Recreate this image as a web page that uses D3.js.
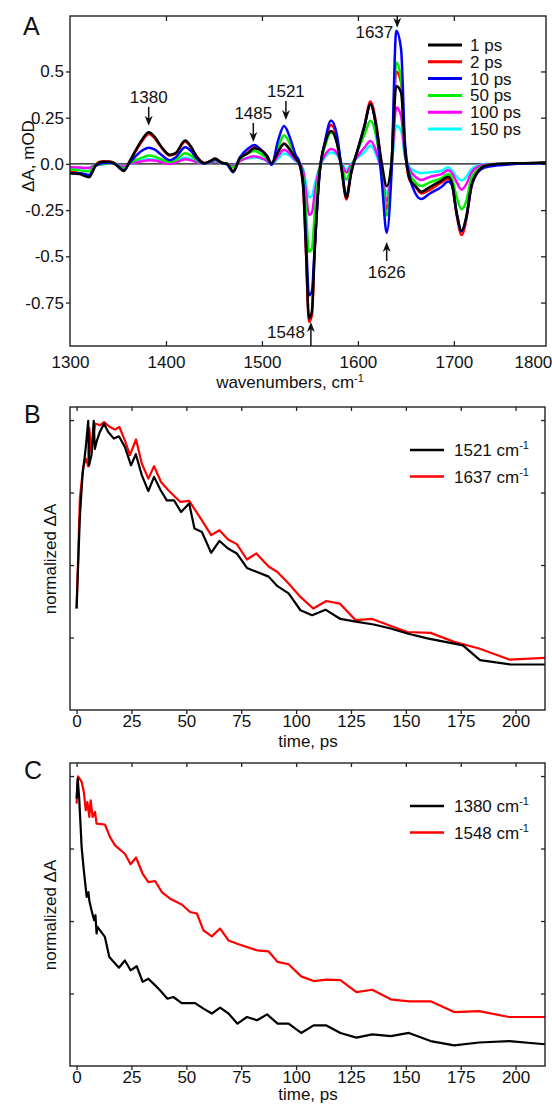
<!DOCTYPE html>
<meta charset="utf-8">
<script src="https://d3js.org/d3.v7.min.js"></script>
<style>
  body { margin: 0; background: #fff; }
  text { font-family: "Liberation Sans", Arial, sans-serif; fill: #111; }
</style>
<div id="my_dataviz"></div>

<script>

// ---------------- data: panel A (transient spectra) ----------------
var wavenumbers = [1300,1310,1320,1327,1334,1341,1347,1351,1356,1362,
  1368,1376,1382,1388,1395,1404,1410,1420,1426,1432,
  1440,1446,1451,1458,1464,1470,1477,1486,1492,1500,
  1505,1510,1517,1523,1530,1535,1539,1543,1546,1549,
  1552,1555,1560,1566,1572,1578,1583,1588,1593,1600,
  1607,1613,1619,1625,1630,1635,1640,1645,1649,1654,
  1660,1666,1675,1687,1694,1698,1703,1708,1713,1718,
  1725,1732,1746,1760,1774,1796];

var spec1ps = [-0.05,-0.055,-0.072,-0.005,0.012,0.012,0.0,-0.02,-0.038,0.012,
  0.07,0.139,0.171,0.148,0.094,0.049,0.058,0.126,0.094,0.04,
  0.004,0.015,0.029,0.007,0.0,-0.041,0.03,0.06,0.085,0.07,
  0.045,0.004,0.067,0.108,0.07,0.03,0.0,-0.12,-0.48,-0.835,
  -0.80,-0.46,-0.05,0.115,0.178,0.115,-0.03,-0.182,-0.047,0.08,
  0.206,0.323,0.206,0.0,-0.12,0.007,0.422,0.386,0.08,-0.083,
  -0.12,-0.15,-0.125,-0.09,-0.07,-0.104,-0.267,-0.361,-0.285,-0.123,
  -0.041,-0.011,0.0,0.003,0.004,0.007];

var spec2ps = [-0.04,-0.05,-0.065,-0.002,0.015,0.013,0.002,-0.018,-0.035,0.012,
  0.065,0.13,0.162,0.14,0.09,0.045,0.055,0.12,0.09,0.04,
  0.005,0.015,0.028,0.007,0.0,-0.04,0.03,0.065,0.09,0.072,
  0.045,0.004,0.07,0.11,0.072,0.03,0.0,-0.13,-0.49,-0.855,
  -0.82,-0.47,-0.05,0.12,0.21,0.14,-0.03,-0.192,-0.05,0.08,
  0.21,0.338,0.22,-0.03,-0.245,0.0,0.50,0.44,0.09,-0.09,
  -0.125,-0.16,-0.14,-0.1,-0.08,-0.112,-0.28,-0.385,-0.3,-0.13,
  -0.045,-0.014,0.0,0.002,0.004,0.006];

var spec10ps = [-0.05,-0.05,-0.06,-0.01,0.005,0.008,0.0,-0.015,-0.035,0.005,
  0.04,0.075,0.088,0.078,0.05,0.02,0.035,0.09,0.07,0.03,
  0.002,0.012,0.025,0.005,-0.005,-0.045,0.035,0.085,0.102,0.07,
  0.04,-0.005,0.13,0.205,0.13,0.05,0.01,-0.10,-0.41,-0.71,
  -0.69,-0.45,-0.06,0.13,0.235,0.16,-0.02,-0.17,-0.045,0.08,
  0.21,0.32,0.2,-0.1,-0.372,-0.05,0.72,0.62,0.12,-0.07,
  -0.16,-0.19,-0.16,-0.125,-0.095,-0.115,-0.27,-0.365,-0.29,-0.13,
  -0.045,-0.02,-0.008,-0.002,0.002,0.005];

var spec50ps = [-0.03,-0.035,-0.04,-0.005,0.0,0.005,0.0,-0.01,-0.025,0.002,
  0.02,0.035,0.045,0.04,0.025,0.01,0.02,0.057,0.045,0.02,
  0.003,0.01,0.02,0.005,0.0,-0.02,0.025,0.06,0.07,0.05,
  0.03,0.0,0.09,0.155,0.1,0.04,0.008,-0.07,-0.27,-0.475,
  -0.46,-0.27,-0.03,0.1,0.17,0.12,-0.01,-0.085,-0.02,0.075,
  0.16,0.233,0.15,-0.06,-0.28,-0.02,0.548,0.46,0.08,-0.05,
  -0.1,-0.12,-0.1,-0.077,-0.055,-0.08,-0.18,-0.245,-0.2,-0.08,
  -0.03,-0.01,0.0,0.002,0.003,0.005];

var spec100ps = [-0.018,-0.02,-0.022,-0.005,0.0,0.003,0.0,-0.008,-0.015,0.0,
  0.008,0.015,0.02,0.018,0.01,0.0,0.008,0.025,0.02,0.01,
  0.002,0.008,0.015,0.004,0.0,-0.01,0.015,0.035,0.042,0.03,
  0.018,0.0,0.045,0.076,0.05,0.02,0.005,-0.04,-0.16,-0.276,
  -0.265,-0.16,-0.02,0.05,0.08,0.06,0.0,-0.047,-0.005,0.043,
  0.09,0.124,0.07,-0.05,-0.2,-0.02,0.305,0.26,0.05,-0.03,
  -0.07,-0.087,-0.07,-0.055,-0.035,-0.05,-0.1,-0.14,-0.11,-0.05,
  -0.015,-0.005,0.0,0.002,0.003,0.004];

var spec150ps = [-0.028,-0.025,-0.02,-0.005,-0.003,0.002,0.0,-0.008,-0.015,0.0,
  0.01,0.02,0.027,0.022,0.015,0.005,0.012,0.035,0.025,0.01,
  0.002,0.008,0.015,0.004,0.0,-0.01,0.02,0.03,0.035,0.028,
  0.015,0.0,0.03,0.056,0.04,0.015,0.004,-0.03,-0.11,-0.18,
  -0.175,-0.11,-0.02,0.04,0.062,0.05,0.005,-0.03,0.0,0.036,
  0.065,0.1,0.05,-0.04,-0.16,-0.02,0.206,0.18,0.04,-0.02,
  -0.04,-0.05,-0.045,-0.037,-0.018,-0.035,-0.07,-0.09,-0.07,-0.03,
  -0.01,0.0,0.0,0.002,0.003,0.004];

var delayNames = ["1 ps","2 ps","10 ps","50 ps","100 ps","150 ps"];
var delayColors = ["#000000","#ff0000","#0000ff","#00ee00","#ff00ff","#00ffff"];

// ---------------- data: panel B kinetics ----------------
var time1521 = [0,1.5,2.7,4.1,5.3,5.7,6.8,7.8,8.3,9.3,
  10.6,12.5,14.4,17,19.3,22,24.8,27,29.7,32.7,
  35.3,38.3,41.1,44.4,47.6,51.3,53.7,57.1,61.3,65.1,
  69,73,77.6,82.2,87.5,91.5,96.6,102,107.3,113.4,
  120.2,127.9,135.4,143.1,150.7,159.8,172,176,183.8,197.9,213.4];
var kin1521 = [0.35,0.666,0.81,0.90,0.997,0.844,0.88,0.997,0.90,0.93,
  0.959,0.988,0.959,0.936,0.944,0.907,0.844,0.882,0.81,0.755,
  0.804,0.758,0.723,0.723,0.683,0.712,0.626,0.614,0.542,0.583,
  0.557,0.540,0.49,0.476,0.46,0.427,0.402,0.344,0.327,0.346,
  0.314,0.304,0.295,0.281,0.264,0.247,0.229,0.223,0.172,0.157,0.157];

var time1637 = [0,1.5,3.0,4.2,5.3,5.8,6.7,8.5,10.6,12.5,
  15.2,17.5,19.5,22,24.3,27.1,29.7,32.7,35.3,38.4,
  41.8,47.2,51.3,57.1,61.3,65.1,69,73,77.6,81.9,
  87.5,91.5,96.6,102,107.8,113.8,119.9,127.1,134.7,142.3,
  150.7,161.3,172,183.4,197.1,213.4];
var kin1637 = [0.35,0.73,0.838,0.867,0.84,0.971,0.89,0.988,0.982,0.993,
  0.976,0.967,0.976,0.93,0.879,0.933,0.85,0.798,0.841,0.787,
  0.758,0.718,0.721,0.654,0.603,0.62,0.588,0.572,0.519,0.54,
  0.495,0.476,0.436,0.39,0.35,0.376,0.367,0.31,0.314,0.292,
  0.269,0.266,0.235,0.212,0.174,0.18];

// ---------------- data: panel C kinetics ----------------
var time1380 = [0,0.5,1.2,2.3,3.3,4.6,5.4,5.8,6.8,8.0,
  8.6,9.1,9.5,12.9,14.9,19.3,22,24.6,27.4,30.1,
  32.7,35.8,38,41.4,44.1,47.9,54,57.8,61.6,65.4,
  69.2,73.3,77.6,82.2,86.8,91.6,96.6,102.3,108,113.8,
  120.2,127.5,134.7,143.1,151.4,161.3,172,183.4,197.1,213.4];
var kin1380 = [0.922,0.991,0.922,0.755,0.675,0.583,0.6,0.57,0.537,0.503,
  0.52,0.457,0.48,0.445,0.376,0.339,0.364,0.33,0.344,0.29,
  0.301,0.278,0.261,0.232,0.238,0.217,0.217,0.198,0.181,0.201,
  0.181,0.146,0.169,0.158,0.178,0.146,0.146,0.114,0.14,0.14,
  0.114,0.098,0.109,0.103,0.114,0.086,0.071,0.081,0.086,0.075];

var time1548 = [0,0.7,2.3,3.3,4.2,4.9,5.8,6.4,7.3,8.4,
  9.1,12.9,15.2,17.5,22,24.6,27.1,30.1,32.7,35.8,
  38.8,42.6,47.9,51.7,54.8,57.8,61.6,65.4,69.2,73.8,
  82.2,87.5,91.6,96.6,102.3,108,113.8,120.2,127.5,134.7,
  143.1,151.4,161.3,172,183.4,197.1,213.4];
var kin1548 = [0.905,0.999,0.98,0.945,0.882,0.91,0.859,0.916,0.859,0.876,
  0.836,0.833,0.79,0.761,0.732,0.696,0.719,0.663,0.634,0.638,
  0.6,0.577,0.557,0.531,0.526,0.468,0.447,0.474,0.433,0.42,
  0.399,0.395,0.359,0.351,0.309,0.293,0.298,0.296,0.255,0.263,
  0.23,0.223,0.223,0.186,0.189,0.169,0.169];

// ---------------- ticks ----------------
var wnTicks = [1300,1400,1500,1600,1700,1800];
var dATicks = [0.5,0.25,0,-0.25,-0.5,-0.75];
var dATickLabels = ["0.5","0.25","0.0","-0.25","-0.5","-0.75"];
var timeTicks = [0,25,50,75,100,125,150,175,200];
var normTicks = [0.25,0.5,0.75,1];

// peak labels: text, arrow position (cm-1), arrow tip (mOD), direction
var peakLabels = ["1380","1485","1521","1637","1626","1548"];
var peakArrowAt = [1382,1491,1525,1641,1630,1551];
var peakArrowTip = [0.206,0.119,0.238,0.736,-0.422,-0.855];
var peakArrowDir = ["down","down","down","down","up","up"];

// ---------------------------------------------------------------
var svg = d3.select("#my_dataviz")
  .append("svg")
    .attr("width", 552)
    .attr("height", 1104);

var fontSize = 17;
var tickFont = 17;

// frame of one panel
function frame(g, w, h) {
  g.append("rect")
    .attr("x", 0).attr("y", 0)
    .attr("width", w).attr("height", h)
    .attr("fill", "none")
    .attr("stroke", "#222")
    .attr("stroke-width", 1.4);
}

function styleAxis(sel) {
  sel.select(".domain").remove();
  sel.selectAll("line").attr("stroke", "#222").attr("stroke-width", 1.3);
  sel.selectAll("text")
    .attr("font-size", tickFont)
    .attr("font-family", "Liberation Sans, Arial, sans-serif")
    .attr("fill", "#111");
}

function cm1(textSel, label) {
  textSel.append("tspan").text(label + " cm");
  textSel.append("tspan").text("-1")
    .attr("font-size", 11)
    .attr("dy", -7);
}

// =============================== panel A ===============================
var A = {left: 70, top: 16, width: 476, height: 330};
var gA = svg.append("g").attr("transform", "translate(" + A.left + "," + A.top + ")");

var xA = d3.scaleLinear().domain([1300, 1796]).range([0, A.width]);
var yA = d3.scaleLinear().domain([-0.985, 0.80]).range([A.height, 0]);

// zero line
gA.append("line")
  .attr("x1", 0).attr("x2", A.width)
  .attr("y1", yA(0)).attr("y2", yA(0))
  .attr("stroke", "#111").attr("stroke-width", 1.2);

var spectra = [spec1ps, spec2ps, spec10ps, spec50ps, spec100ps, spec150ps];
var lineA = d3.line()
  .x(function(d){ return xA(d[0]) })
  .y(function(d){ return yA(d[1]) })
  .curve(d3.curveMonotoneX);

// draw order: slow delays first, 10 ps and 1 ps last
var drawOrder = [1, 5, 4, 3, 2, 0];
drawOrder.forEach(function(i){
  gA.append("path")
    .datum(d3.zip(wavenumbers, spectra[i]))
    .attr("d", lineA)
    .attr("fill", "none")
    .attr("stroke", delayColors[i])
    .attr("stroke-width", 2.5)
    .attr("stroke-linejoin", "round");
});

frame(gA, A.width, A.height);

// axes
gA.append("g")
  .call(d3.axisLeft(yA).tickValues(dATicks).tickSize(4).tickPadding(2)
    .tickFormat(function(d, i){ return dATickLabels[i] }))
  .call(styleAxis);
gA.append("g")
  .attr("transform", "translate(" + A.width + ",0)")
  .call(d3.axisRight(yA).tickValues(dATicks).tickSize(-5).tickFormat(""))
  .call(styleAxis);
gA.append("g")
  .call(d3.axisTop(xA).tickValues([1400,1500,1600,1700]).tickSize(-5).tickFormat(""))
  .call(styleAxis);
var bottomA = gA.append("g")
  .attr("transform", "translate(0," + A.height + ")")
  .call(d3.axisBottom(xA).tickValues(wnTicks).tickSize(-5).tickPadding(10).tickFormat(d3.format("d")))
  .call(styleAxis);
// last label sits at the right edge of the page
bottomA.selectAll(".tick").filter(function(d){ return d === 1800 })
  .call(function(t){
    t.select("line").remove();
    t.select("text").attr("text-anchor", "end").attr("x", 2);
  });
bottomA.selectAll(".tick").filter(function(d){ return d === 1300 })
  .select("line").remove();

// axis titles
var xtA = gA.append("text")
  .attr("x", 220).attr("y", A.height + 42)
  .attr("text-anchor", "middle")
  .attr("font-size", fontSize);
xtA.append("tspan").text("wavenumbers, cm");
xtA.append("tspan").text("-1").attr("font-size", 11).attr("dy", -6);

svg.append("text")
  .attr("transform", "translate(34,156) rotate(-90)")
  .attr("text-anchor", "middle")
  .attr("font-size", fontSize)
  .text("\u0394A, mOD");

// peak annotations
peakLabels.forEach(function(lab, i){
  var ax = xA(peakArrowAt[i]);
  var tip = yA(peakArrowTip[i]);
  var dir = peakArrowDir[i] === "down" ? 1 : -1;
  var len = (lab === "1637") ? 12 : (lab === "1548" ? 24 : 19);
  var tail = tip - dir * len;
  gA.append("line")
    .attr("x1", ax).attr("x2", ax)
    .attr("y1", tail).attr("y2", tip - dir * 4)
    .attr("stroke", "#111").attr("stroke-width", 1.5);
  gA.append("path")
    .attr("d", "M" + ax + "," + tip + "L" + (ax - 4) + "," + (tip - dir * 10) +
      "L" + ax + "," + (tip - dir * 7) + "L" + (ax + 4) + "," + (tip - dir * 10) + "Z")
    .attr("fill", "#111");
  var t = gA.append("text").attr("font-size", fontSize).text(lab);
  if (lab === "1637") {
    t.attr("x", ax - 4).attr("y", 22).attr("text-anchor", "end");
  } else if (lab === "1548") {
    t.attr("x", ax - 6).attr("y", A.height - 8).attr("text-anchor", "end");
  } else if (dir === -1) {
    t.attr("x", ax).attr("y", tail + 17).attr("text-anchor", "middle");
  } else {
    t.attr("x", ax).attr("y", tail - 4).attr("text-anchor", "middle");
  }
});

// legend A
delayNames.forEach(function(name, i){
  var ly = 29 + i * 16.8;
  gA.append("line")
    .attr("x1", 358).attr("x2", 392)
    .attr("y1", ly).attr("y2", ly)
    .attr("stroke", delayColors[i]).attr("stroke-width", 3);
  gA.append("text")
    .attr("x", 400).attr("y", ly + 6)
    .attr("font-size", fontSize)
    .text(name);
});

svg.append("text").attr("x", 23).attr("y", 35).attr("font-size", 25).text("A");

// =============================== panels B and C ===============================
function kineticsPanel(top, letter, series, legendNames, titleGap) {
  var P = {left: 70, top: top, width: 475, height: 303};
  var g = svg.append("g").attr("transform", "translate(" + P.left + "," + P.top + ")");

  var x = d3.scaleLinear().domain([-3, 213.4]).range([0, P.width]);
  var y = d3.scaleLinear().domain([0, 1.045]).range([P.height, 0]);

  var line = d3.line()
    .x(function(d){ return x(d[0]) })
    .y(function(d){ return y(d[1]) });

  var colors = ["#000000", "#ff0000"];
  // red drawn first, black on top
  [1, 0].forEach(function(i){
    g.append("path")
      .datum(d3.zip(series[i][0], series[i][1]))
      .attr("d", line)
      .attr("fill", "none")
      .attr("stroke", colors[i])
      .attr("stroke-width", 2.2)
      .attr("stroke-linejoin", "round");
  });

  frame(g, P.width, P.height);

  g.append("g")
    .call(d3.axisLeft(y).tickValues(normTicks).tickSize(-4).tickFormat(""))
    .call(styleAxis);
  g.append("g")
    .attr("transform", "translate(" + P.width + ",0)")
    .call(d3.axisRight(y).tickValues(normTicks).tickSize(-4).tickFormat(""))
    .call(styleAxis);
  g.append("g")
    .call(d3.axisTop(x).tickValues(timeTicks).tickSize(-4).tickFormat(""))
    .call(styleAxis);
  g.append("g")
    .attr("transform", "translate(0," + P.height + ")")
    .call(d3.axisBottom(x).tickValues(timeTicks).tickSize(4).tickPadding(1))
    .call(styleAxis);

  g.append("text")
    .attr("x", 238).attr("y", P.height + titleGap)
    .attr("text-anchor", "middle")
    .attr("font-size", fontSize)
    .text("time, ps");

  svg.append("text")
    .attr("transform", "translate(56," + (top + 152) + ") rotate(-90)")
    .attr("text-anchor", "middle")
    .attr("font-size", fontSize)
    .text("normalized \u0394A");

  legendNames.forEach(function(name, i){
    var ly = 43 + i * 26.5;
    g.append("line")
      .attr("x1", 340).attr("x2", 374)
      .attr("y1", ly).attr("y2", ly)
      .attr("stroke", colors[i]).attr("stroke-width", 2.5);
    var t = g.append("text")
      .attr("x", 384).attr("y", ly + 6)
      .attr("font-size", fontSize);
    cm1(t, name);
  });

  svg.append("text").attr("x", 24).attr("y", top + 16).attr("font-size", 25).text(letter);
}

kineticsPanel(407, "B", [[time1521, kin1521], [time1637, kin1637]], ["1521", "1637"], 37);
kineticsPanel(763, "C", [[time1380, kin1380], [time1548, kin1548]], ["1380", "1548"], 34);

</script>
